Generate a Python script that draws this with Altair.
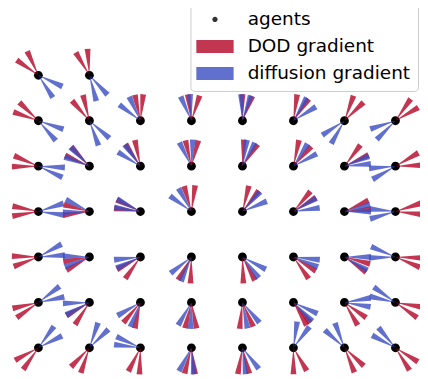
import altair as alt
import pandas as pd

# grid positions of the agents (column index, row index from the top)
agent_cols = [0, 1] + [0, 1, 2, 3, 4, 5, 6, 7] * 6
agent_rows = [0, 0] + [r for r in range(1, 7) for _ in range(8)]

# compass bearings (deg, clockwise from up) of the two DOD-gradient wedges per agent
dod_a = [-55, -31,
         -71, -41, -12, -8, 0, 8, 20, 35,
         -67, -66, -34, -13, 3, 12, 37, 60,
         -78, -75, -64, -16, 14, 40, 65, 72,
         -88, -100, -118, -150, 152, 122, 105, 92,
         -103, -120, -140, -166, 156, 140, 125, 100,
         -118, -136, -153, -165, -170, 150, 133, 122]
dod_b = [-25, -4,
         -46, -14, 6, 18, 22, 35, 46, 60,
         -91, -43, -12, 15, 35, 42, 65, 88,
         -100, -98, -83, 8, 38, 58, 85, 96,
         -111, -120, -145, -178, 178, 145, 125, 113,
         -125, -147, -168, 169, 186, 150, 150, 125,
         -145, -161, -178, 172, 165, 180, 158, 148]
# compass bearings of the two diffusion-gradient wedges per agent
dif_a = [115, 137,
         109, 131, -53, -24, -3, 30, 210, 225,
         93, -70, -58, -27, 10, 32, 68, 240,
         72, -63, -62, -54, 42, 60, 75, 254,
         61, -88, -96, -128, 118, 96, 90, 268,
         53, -92, -120, -150, 140, 115, 80, 283,
         36, 19, -65, -152, 142, 8, -48, -62]
dif_b = [147, 165,
         139, 160, -25, -3, 18, 58, 237, 252,
         115, -45, -36, 3, 28, 62, 85, 265,
         98, -92, -81, -29, 67, 82, 90, 276,
         86, -112, -115, -157, 142, 112, 120, 293,
         78, -118, -158, -178, 169, 135, 100, 305,
         63, 46, -83, 175, 173, 37, -21, -40]

kinds = ["agents", "DOD gradient", "diffusion gradient"]
kind_colors = ["#000000", "#b40426", "#3b4cc0"]

WEDGE = "M0,0 L-0.22,-2 L0.22,-2 Z"
DOT = "M0.156,0 A0.156,0.156 0 1,1 -0.156,0 A0.156,0.156 0 1,1 0.156,0 Z"
RECT = "M-1.118,-0.392 L1.118,-0.392 L1.118,0.392 L-1.118,0.392 Z"

agents = pd.DataFrame({"col": agent_cols, "row": agent_rows, "kind": "agents"})
recs = []
for i, (c, r) in enumerate(zip(agent_cols, agent_rows)):
    for a in (dod_a[i], dod_b[i]):
        recs.append({"col": c, "row": r, "kind": "DOD gradient", "angle": a % 360})
    for a in (dif_a[i], dif_b[i]):
        recs.append({"col": c, "row": r, "kind": "diffusion gradient", "angle": a % 360})
wedges = pd.DataFrame(recs)

xs = alt.X("col:Q", scale=alt.Scale(domain=[-0.596, 7.481], nice=False, zero=False), axis=None)
ys = alt.Y("row:Q", scale=alt.Scale(domain=[-1.404, 6.609], nice=False, zero=False, reverse=True), axis=None)

legend = alt.Legend(
    title=None, orient="none", legendX=186, legendY=-17, direction="vertical",
    fillColor="white", strokeColor="#cccccc", cornerRadius=4, padding=8,
    labelFont="DejaVu Sans", labelFontSize=18.8, labelColor="black", labelLimit=0,
    symbolSize=1156, labelOffset=16.3, rowPadding=0.6, symbolStrokeWidth=0,
    symbolOpacity=0.8,
)

color = alt.Color("kind:N", scale=alt.Scale(domain=kinds, range=kind_colors), legend=legend)
shape = alt.Shape("kind:N", scale=alt.Scale(domain=kinds, range=[DOT, RECT, RECT]), legend=legend)

agent_layer = alt.Chart(agents).mark_point(filled=True, opacity=1, strokeWidth=0).encode(
    x=xs, y=ys, color=color, shape=shape, size=alt.value(3330)
)

wedge_layer = alt.Chart(wedges).mark_point(
    filled=True, opacity=0.8, shape=WEDGE, size=729, strokeWidth=0
).encode(
    x=xs, y=ys,
    color=alt.Color("kind:N", scale=alt.Scale(domain=kinds, range=kind_colors), legend=None),
    angle=alt.Angle("angle:Q", scale=None),
)

chart = alt.layer(agent_layer, wedge_layer).properties(
    width=420, height=371, padding=0,
    autosize=alt.AutoSizeParams(type="none"),
).configure_view(stroke=None)

chart.save("out.html", embed_options={"renderer": "svg", "actions": False})
